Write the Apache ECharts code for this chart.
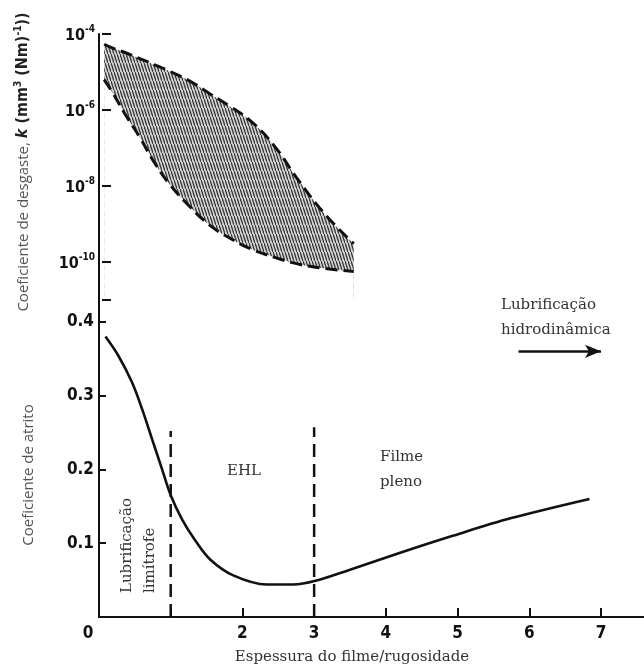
<!DOCTYPE html>
<html>
<head>
<meta charset="utf-8">
<script src="https://cdn.jsdelivr.net/npm/echarts@6/dist/echarts.min.js"></script>
<style>
html, body { margin: 0; padding: 0; background: #fff; }
#main { width: 644px; height: 668px; }
</style>
</head>
<body>
<div id="main"></div>
<script>
// faixa do coeficiente de desgaste, em log10(k)
var bandX = [0.03, 0.15, 0.34, 0.53, 0.74, 0.96, 1.23, 1.51, 1.79, 2.09, 2.41, 2.74, 3.13, 3.53];
var bandUpper = [-4.27, -4.37, -4.5, -4.65, -4.81, -4.99, -5.24, -5.57, -5.9, -6.3, -6.93, -7.81, -8.75, -9.52];
var bandLower = [-5.2, -5.55, -6.16, -6.72, -7.4, -7.98, -8.54, -9.03, -9.37, -9.66, -9.87, -10.05, -10.17, -10.25];

// coeficiente de atrito
var fricX = [0.09, 0.27, 0.46, 0.60, 0.74, 0.88, 1.0, 1.16, 1.34, 1.55, 1.88, 2.34, 2.71, 3.02, 3.5, 4.2, 4.9, 5.75, 6.84];
var fricY = [0.38, 0.354, 0.318, 0.282, 0.241, 0.200, 0.165, 0.132, 0.104, 0.078, 0.056, 0.044, 0.044, 0.049, 0.064, 0.087, 0.109, 0.134, 0.16];

// linhas tracejadas das regiões
var regionX = [1, 3];
var regionTop = [0.252, 0.257];

// ticks
var xTicks = [1, 2, 3, 4, 5, 6, 7];
var xTickLabels = [0, 2, 3, 4, 5, 6, 7];
var fricTicks = [0.1, 0.2, 0.3, 0.4];
var wearTicks = [-4, -6, -8, -10, -11];
var wearTickLabels = [-4, -6, -8, -10];

function zip(xs, ys) {
    return xs.map(function (x, i) { return [x, ys[i]]; });
}

// padrão hachurado
function hatch() {
    var w = 3, h = 9;
    var c = document.createElement('canvas');
    c.width = w; c.height = h;
    var ctx = c.getContext('2d');
    ctx.fillStyle = '#d4d4d4';
    ctx.fillRect(0, 0, w, h);
    ctx.strokeStyle = '#333';
    ctx.lineWidth = 1.3;
    for (var m = -1; m <= 1; m++) {
        ctx.beginPath();
        ctx.moveTo(0, m * h);
        ctx.lineTo(w, h + m * h);
        ctx.stroke();
    }
    return c;
}

var sansB = "'Liberation Sans Narrow', 'DejaVu Sans Condensed', 'Liberation Sans', sans-serif";
var serif = "'DejaVu Serif', 'Liberation Serif', serif";
var sansL = "'Open Sans', 'Noto Sans', sans-serif";

var myChart = echarts.init(document.getElementById('main'));

var option = {
    animation: false,
    backgroundColor: '#fff',
    grid: [
        // começa 3 px à direita do eixo para a área não cobrir a linha do eixo
        { left: 102, right: 0, top: 34, height: 266 },
        // o eixo do atrito ocupa a altura toda, para a linha vertical ser contínua
        { left: 99, right: 0, top: 34, bottom: 51 }
    ],
    xAxis: [
        { gridIndex: 0, type: 'value', min: 0, max: 7.6, show: false },
        {
            gridIndex: 1, type: 'value', min: 0, max: 7.6,
            axisLine: { lineStyle: { color: '#111', width: 2 } },
            splitLine: { show: false },
            axisTick: { customValues: xTicks, inside: true, length: 9, lineStyle: { color: '#111', width: 2 } },
            axisLabel: {
                customValues: xTickLabels, margin: 8,
                fontFamily: sansB, fontWeight: 'bold', fontSize: 17, color: '#111',
                formatter: function (v) { return v === 0 ? '{z|0}' : String(v); },
                rich: { z: { fontFamily: sansB, fontWeight: 'bold', fontSize: 17, color: '#111', padding: [0, 22, 0, 0] } }
            }
        }
    ],
    yAxis: [
        {
            gridIndex: 0, type: 'value', min: -11, max: -4, z: 10,
            position: 'left', offset: 3,
            axisLine: { show: false },
            splitLine: { show: false },
            axisTick: { show: true, customValues: wearTicks, inside: true, length: 9, lineStyle: { color: '#111', width: 2 } },
            axisLabel: {
                customValues: wearTickLabels, margin: 4,
                formatter: function (v) { return '{b|10}{s|' + v + '}'; },
                rich: {
                    b: { fontFamily: sansB, fontWeight: 'bold', fontSize: 16, color: '#111', lineHeight: 20, verticalAlign: 'bottom' },
                    s: { fontFamily: sansB, fontWeight: 'bold', fontSize: 10, color: '#111', lineHeight: 20, verticalAlign: 'top' }
                }
            }
        },
        {
            gridIndex: 1, type: 'value', min: 0, max: 0.79, z: 10,
            axisLine: { show: true, onZero: false, lineStyle: { color: '#111', width: 2 } },
            splitLine: { show: false },
            axisTick: { customValues: fricTicks, inside: true, length: 7, lineStyle: { color: '#111', width: 2 } },
            axisLabel: {
                customValues: fricTicks, margin: 5,
                fontFamily: sansB, fontWeight: 'bold', fontSize: 17, color: '#111',
                formatter: function (v) { return v.toFixed(1); }
            }
        }
    ],
    series: [
        {
            type: 'line', xAxisIndex: 0, yAxisIndex: 0, z: 1,
            data: zip(bandX, bandUpper), smooth: 0.45, showSymbol: false, symbol: 'none',
            lineStyle: { color: '#111', width: 3, type: [12, 6] },
            areaStyle: { color: { image: hatch(), repeat: 'repeat' }, opacity: 1, origin: 'start' }
        },
        {
            type: 'line', xAxisIndex: 0, yAxisIndex: 0, z: 1,
            data: zip(bandX, bandLower), smooth: 0.45, showSymbol: false, symbol: 'none',
            lineStyle: { color: '#111', width: 3, type: [12, 6] },
            areaStyle: { color: '#fff', opacity: 1, origin: 'start' }
        },
        {
            type: 'line', xAxisIndex: 1, yAxisIndex: 1,
            data: zip(fricX, fricY), smooth: 0.35, showSymbol: false, symbol: 'none',
            lineStyle: { color: '#111', width: 2.6 }
        },
        {
            type: 'line', xAxisIndex: 1, yAxisIndex: 1,
            data: [[regionX[0], 0], [regionX[0], regionTop[0]]], showSymbol: false, symbol: 'none',
            lineStyle: { color: '#111', width: 2.5, type: [13, 7] }
        },
        {
            type: 'line', xAxisIndex: 1, yAxisIndex: 1,
            data: [[regionX[1], 0], [regionX[1], regionTop[1]]], showSymbol: false, symbol: 'none',
            lineStyle: { color: '#111', width: 2.5, type: [13, 7] },
            markLine: {
                silent: true, symbol: ['none', 'arrow'], symbolSize: [10, 16],
                label: { show: false },
                lineStyle: { color: '#111', width: 2.5, type: 'solid' },
                data: [[{ coord: [5.85, 0.36] }, { coord: [7.0, 0.36] }]]
            }
        }
    ],
    graphic: [
        {
            type: 'text', x: 22, y: 162, rotation: Math.PI / 2,
            style: {
                text: '{a|Coeficiente de desgaste, }{k|k}{c| (mm}{s|3}{c| (Nm)}{s|-1}{c|))}',
                align: 'center', verticalAlign: 'middle',
                rich: {
                    a: { fontFamily: sansL, fontSize: 15, fill: '#555', lineHeight: 18, verticalAlign: 'bottom' },
                    k: { fontFamily: sansB, fontSize: 16, fontWeight: 'bold', fontStyle: 'italic', fill: '#222', lineHeight: 18, verticalAlign: 'bottom' },
                    c: { fontFamily: sansB, fontSize: 16, fontWeight: 'bold', fill: '#222', lineHeight: 18, verticalAlign: 'bottom' },
                    s: { fontFamily: sansB, fontSize: 10, fontWeight: 'bold', fill: '#222', lineHeight: 18, verticalAlign: 'top' }
                }
            }
        },
        {
            type: 'text', x: 29, y: 475, rotation: Math.PI / 2,
            style: { text: 'Coeficiente de atrito', font: '15px ' + sansL, fill: '#555', align: 'center', verticalAlign: 'middle' }
        },
        {
            type: 'text', x: 352, y: 657,
            style: { text: 'Espessura do filme/rugosidade', font: '15px ' + serif, fill: '#333', align: 'center', verticalAlign: 'middle' }
        },
        {
            type: 'text', x: 127, y: 593, rotation: Math.PI / 2,
            style: { text: 'Lubrificação', font: '15px ' + serif, fill: '#333', align: 'left', verticalAlign: 'middle' }
        },
        {
            type: 'text', x: 150, y: 593, rotation: Math.PI / 2,
            style: { text: 'limítrofe', font: '15px ' + serif, fill: '#333', align: 'left', verticalAlign: 'middle' }
        },
        {
            type: 'text', x: 244, y: 471,
            style: { text: 'EHL', font: '15px ' + serif, fill: '#333', align: 'center', verticalAlign: 'middle' }
        },
        {
            type: 'text', x: 380, y: 457,
            style: { text: 'Filme', font: '15px ' + serif, fill: '#333', align: 'left', verticalAlign: 'middle' }
        },
        {
            type: 'text', x: 380, y: 482,
            style: { text: 'pleno', font: '15px ' + serif, fill: '#333', align: 'left', verticalAlign: 'middle' }
        },
        {
            type: 'text', x: 501, y: 305,
            style: { text: 'Lubrificação', font: '15px ' + serif, fill: '#333', align: 'left', verticalAlign: 'middle' }
        },
        {
            type: 'text', x: 501, y: 330,
            style: { text: 'hidrodinâmica', font: '15px ' + serif, fill: '#333', align: 'left', verticalAlign: 'middle' }
        }
    ]
};

myChart.setOption(option);
</script>
</body>
</html>
